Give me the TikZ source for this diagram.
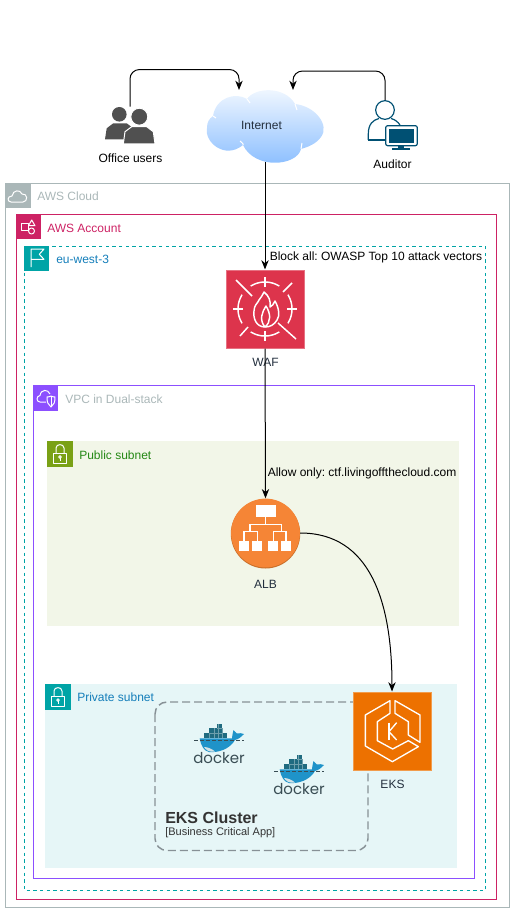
\documentclass[tikz,border=0pt]{standalone}
\usepackage{fontspec}
\setmainfont{Liberation Sans}
\newfontfamily\dockerfont{Poppins}
\usepackage{xcolor}
\usetikzlibrary{calc,arrows.meta,positioning}
\definecolor{awsGray}{HTML}{AAB7B8}
\definecolor{awsPink}{HTML}{CD2264}
\definecolor{awsTeal}{HTML}{00A4A6}
\definecolor{awsBlue}{HTML}{147EBA}
\definecolor{awsPurple}{HTML}{8C4FFF}
\definecolor{awsGreen}{HTML}{7AA116}
\definecolor{txtGreen}{HTML}{248814}
\definecolor{pubFill}{HTML}{F2F6E8}
\definecolor{privFill}{HTML}{E6F6F7}
\definecolor{wafRed}{HTML}{DD344C}
\definecolor{eksOrange}{HTML}{ED7100}
\definecolor{albOrange}{HTML}{F58536}
\definecolor{albDark}{HTML}{C96F2A}
\definecolor{inkDark}{HTML}{232F3E}
\definecolor{clusterGray}{HTML}{879196}
\definecolor{userGray}{HTML}{505050}
\definecolor{auditBlue}{HTML}{005073}
\definecolor{cloudTop}{HTML}{F4F9FF}
\definecolor{cloudBot}{HTML}{85BBFF}
\definecolor{whaleBlue}{HTML}{1F93C9}
\definecolor{crateTeal}{HTML}{1F6B80}
\definecolor{dockerInk}{HTML}{394D54}
\frenchspacing
\tikzset{
  lbl/.style={font=\fontsize{9pt}{11pt}\selectfont,inner sep=0pt},
  grouplbl/.style={lbl,anchor=west},
  link/.style={black,line width=0.75pt,-{Stealth[length=7pt,width=5.5pt]}},
  iconline/.style={white,line width=0.75pt,line join=round},
  awsbox/.style={minimum size=58.5pt,inner sep=0pt,draw=white!30!#1,fill=#1,line width=0.75pt},
}
\begin{document}
\begin{tikzpicture}[x=0.75pt,y=-0.75pt]
\useasboundingbox (0,0) rectangle (515,913);

\draw[awsGray, line width=0.75pt] (5.5,183) rectangle (509.5,907);
\fill[awsGray] (5,183) rectangle (30.5,208);
\draw[iconline] (11,202) .. controls (7,202) and (7,196) .. (12,196) .. controls (13,190) and (20,189) .. (22,194) .. controls (28,193) and (28,202) .. (23,202) -- cycle;
\node[grouplbl,text=awsGray] (cloudlbl) at (37,196) {AWS Cloud};

\draw[awsPink, line width=0.75pt] (16,214.5) rectangle (496.5,899);
\fill[awsPink] (15.7,214) rectangle (40.7,239);
\draw[iconline] (21.7,223.5) rectangle (28.3,230);
\draw[iconline] (31.7,220) -- (28.5,225.7) -- (35,225.7) -- cycle;
\draw[iconline] (31.5,231) circle (3);
\node[grouplbl,text=awsPink] (accountlbl) at (47,228) {AWS Account};

\draw[awsTeal, line width=0.75pt, dash pattern=on 2.5pt off 2.5pt] (24.5,246) rectangle (485.5,890.5);
\fill[awsTeal] (24.3,245.7) rectangle (49.3,270.7);
\draw[iconline] (31,267) -- (31,249) -- (44,249) -- (39.3,254.3) -- (44,259.3) -- (31,259.3);
\node[grouplbl,text=awsBlue] (regionlbl) at (56,259) {eu-west-3};

\draw[awsPurple, line width=0.75pt] (33.5,385.5) rectangle (474.5,878.5);
\fill[awsPurple] (33.3,385.5) rectangle (58.3,410.5);
\draw[iconline] (46,402) -- (40,402) .. controls (36,402) and (36,396) .. (40,395.5) .. controls (41,389) and (48,389) .. (50,394);
\draw[iconline] (47,397) .. controls (49,397) and (50,396.5) .. (51,396) .. controls (52,396.5) and (53,397) .. (55,397) .. controls (55,402) and (54,405) .. (51,407) .. controls (48,405) and (47,402) .. (47,397) -- cycle;
\draw[iconline] (51,396) -- (51,407);
\node[grouplbl,text=awsGray] (vpclbl) at (65,399) {VPC in Dual-stack};

\fill[pubFill] (47,441) rectangle (459,626);
\fill[privFill] (45,684) rectangle (457,868);
\foreach \x/\y/\c in {47/441/awsGreen,45/684/awsTeal}{
\begin{scope}[shift={(\x,\y)}]
\fill[\c] (0,0) rectangle (25.5,25.5);
\draw[iconline] (6.3,12.5) rectangle (19.7,22.3);
\draw[iconline] (9,12.5) -- (9,7) .. controls (9,2.5) and (17,2.5) .. (17,7) -- (17,12.5);
\draw[iconline] (13,16) circle (1.3);
\draw[iconline] (13,17.3) -- (13,20);
\end{scope}
}
\node[grouplbl,text=txtGreen] (publbl) at (79,455) {Public subnet};
\node[grouplbl,text=awsBlue] (privlbl) at (77,697) {Private subnet};

\draw[clusterGray, line width=1.1pt, dash pattern=on 6pt off 3pt, rounded corners=9pt] (155,702) rectangle (368,850.5);
\node[grouplbl,text=black!80,font=\fontsize{12pt}{14pt}\selectfont\bfseries] (clustername) at (165,817.5) {EKS Cluster};
\node[grouplbl,text=black!80,font=\fontsize{8.25pt}{10pt}\selectfont] (clusternote) at (165,833) {[Business Critical App]};

\foreach \x/\y in {194/724,274/755}{
\begin{scope}[shift={(\x,\y)}]
\fill[crateTeal] (10,8.7) rectangle (33,14);
\fill[crateTeal] (15,4.3) rectangle (28,8.7);
\fill[crateTeal] (23.3,0) rectangle (28,4.3);
\draw[white!35!crateTeal, line width=0.3pt] (15,8.7) -- (28,8.7) (23.3,4.3) -- (28,4.3) (15,8.7) -- (15,14) (20,4.3) -- (20,14) (24,0) -- (24,14) (28,4.3) -- (28,14);
\fill[whaleBlue] (5.7,14.3) -- (38,14.3) .. controls (38,11) and (39,9) .. (39.5,6) .. controls (41,7) and (42,8) .. (43,9.5) .. controls (45,9) and (48,9) .. (50,10) .. controls (47,13) and (45,15) .. (41,16) .. controls (36,25) and (24,29) .. (15,28) .. controls (10,27) and (7,22) .. (5.7,14.3) -- cycle;
\fill[white!80!crateTeal] (10,23) .. controls (14,23) and (18,25) .. (21,27.5) .. controls (15,28.5) and (12,26) .. (10,23) -- cycle;
\draw[dockerInk, line width=0.4pt, dash pattern=on 3pt off 1.5pt] (0,16.5) -- (50,16.5);
\node[inner sep=0pt,text=dockerInk,font=\dockerfont\fontsize{11.25pt}{12pt}\selectfont] (dockertxt\x) at (25,34.5) {docker};
\end{scope}
}

\shade[top color=cloudTop, bottom color=cloudBot] (247,99) .. controls (255,87) and (285,86) .. (295,104) .. controls (315,106) and (330,125) .. (321,137) .. controls (316,144) and (308,147) .. (301,149) .. controls (297,166) and (255,170) .. (243,145) .. controls (225,160) and (204,142) .. (207,128) .. controls (207,122) and (209,119) .. (213,116) .. controls (216,97) and (236,92) .. (247,99) -- cycle;
\draw[white, line width=0.75pt] (247,99) -- (250,103);
\draw[white, line width=0.75pt] (295,104) -- (297,110);
\draw[white, line width=0.75pt] (301,149) -- (302,143);
\draw[white, line width=0.75pt] (243,145) .. controls (244,144) and (241,142) .. (240,141);
\draw[white, line width=0.75pt] (213,116) -- (216,118);
\node[inner sep=0pt,minimum width=87pt,minimum height=54pt] (internet) at (265,126) {};
\node[lbl,text=inkDark] (internetlbl) at (261.5,125) {Internet};

\fill[userGray] (119.3,114.3) circle (7.3);
\fill[userGray] (105,139.3) -- (106.7,128.3) -- (113.3,123.3) -- (126.7,123.3) -- (133,128) -- (133,139.3) -- cycle;
\filldraw[userGray,draw=white,line width=0.75pt] (139.3,116.7) circle (8.5);
\filldraw[userGray,draw=white,line width=0.75pt] (123.3,144) -- (125,131.7) -- (131.7,126.7) -- (146.7,126.7) -- (153.3,131.7) -- (155,144) -- cycle;
\node[inner sep=0pt,minimum width=37.5pt,minimum height=28pt] (office) at (130,125.5) {};
\node[lbl] (officelbl) at (130.5,158) {Office users};

\draw[auditBlue, line width=0.9pt] (368.3,140) -- (368.3,134) .. controls (368.3,124) and (373,120) .. (379,118.5);
\draw[auditBlue, line width=0.9pt] (391,118.5) .. controls (395,119.5) and (398,122) .. (400,125);
\draw[auditBlue, line width=0.9pt] (368.3,140) -- (385.7,140);
\node[circle,draw=auditBlue,line width=0.9pt,inner sep=0pt,minimum size=14pt] (auditor) at (385,110) {};
\draw[auditBlue, line width=0.9pt, fill=white, rounded corners=1.5pt] (385.7,125.7) rectangle (417.3,145.7);
\fill[auditBlue] (389.3,129) rectangle (413.5,142.7);
\fill[auditBlue] (398,145.7) rectangle (404,149);
\fill[auditBlue] (392,148.5) rectangle (410,150.5);
\node[lbl] (auditorlbl) at (392.5,164) {Auditor};

\node[awsbox=wafRed] (waf) at (265,309) {};
\draw[iconline, line width=1.1pt] (236,280) -- (252,296);
\draw[iconline, line width=1.1pt] (292,283) -- (283,292);
\draw[iconline, line width=1.1pt] (278,323) -- (296,339);
\draw[iconline, line width=1.1pt] (248,327) -- (240,336);
\foreach \a in {0,90,180,270}{
\draw[iconline, line width=1.1pt, domain=\a-32:\a+32, samples=16, smooth] plot ({265+27*cos(\x)},{309+27*sin(\x)});
\draw[iconline, line width=1.1pt] ({265+22*cos(\a)},{309+22*sin(\a)}) -- ({265+32*cos(\a)},{309+32*sin(\a)});
}
\draw[iconline, line width=1.1pt] (265,327) .. controls (256,327) and (253,318) .. (254,311) .. controls (254,305) and (258,303) .. (259,300) .. controls (261,297) and (263,295) .. (264,292) .. controls (269,296) and (271,301) .. (270,307) .. controls (272,306) and (274,304) .. (275,301) .. controls (279,308) and (280,316) .. (277,320) .. controls (274,325) and (270,327) .. (265,327) -- cycle;
\draw[iconline, line width=1.1pt] (265,327) .. controls (259,320) and (262,312) .. (266,306) .. controls (271,314) and (271,322) .. (265,327);
\node[lbl,text=inkDark] (waflbl) at (265.5,362) {WAF};

\fill[albDark] (265.5,533.8) circle (34.7);
\node[circle,fill=albOrange,inner sep=0pt,minimum size=51.6pt] (alb) at (265.5,533) {};
\fill[white] (255.7,505) rectangle (275.7,516.7);
\draw[white, line width=1.1pt] (265.7,516.7) -- (265.7,524.3);
\draw[white, line width=1.1pt] (250,531.7) -- (250,524.3) -- (281.7,524.3) -- (281.7,531.7);
\draw[white, line width=1.1pt] (244,541) -- (244,531.7) -- (257.3,531.7) -- (257.3,541);
\draw[white, line width=1.1pt] (273.3,541) -- (273.3,531.7) -- (286,531.7) -- (286,541);
\foreach \x in {239.3,252.3,268.3,281}{
\fill[white] (\x,541) rectangle ++(10,10);
}
\node[lbl,text=inkDark] (alblbl) at (265.5,584) {ALB};

\node[awsbox=eksOrange] (eks) at (392,731) {};
\begin{scope}[shift={(340,680)},x=0.25pt,y=-0.25pt]
\draw[iconline, line width=1pt] (150,62) -- (150,100) -- (112,125) -- (112,182) -- (158,207) -- (205,182) -- (235,200) -- (157,245) -- (76,198) -- (76,105) -- cycle;
\draw[iconline, line width=1pt] (165,62) -- (240,105) -- (240,187) -- (205,165) -- (205,125) -- (165,100) -- cycle;
\draw[iconline, line width=1pt] (147,128) -- (147,180);
\draw[iconline, line width=1pt] (170,128) -- (147,155) -- (170,180);
\end{scope}
\node[lbl,text=inkDark] (ekslbl) at (392.5,784) {EKS};

\node[lbl,anchor=west] (wafrule) at (269.5,257) {Block all: OWASP Top 10 attack vectors};
\node[lbl,anchor=west] (albrule) at (267.5,473) {Allow only: ctf.livingoffthecloud.com};

\coordinate (inleft) at (239,90);
\coordinate (inright) at (293,90);
\draw[link, rounded corners=7pt] (office.north) -- ++(0,-37) -| (inleft);
\draw[link, rounded corners=7pt] (auditor.north) -- ++(0,-29) -| (inright);
\draw[link] (internet.south) -- (waf.north);
\draw[link] (waf.south) -- (alb.north);
\draw[link] (alb.east) .. controls +(70,0) and +(0,-90) .. (eks.north);
\end{tikzpicture}
\end{document}
